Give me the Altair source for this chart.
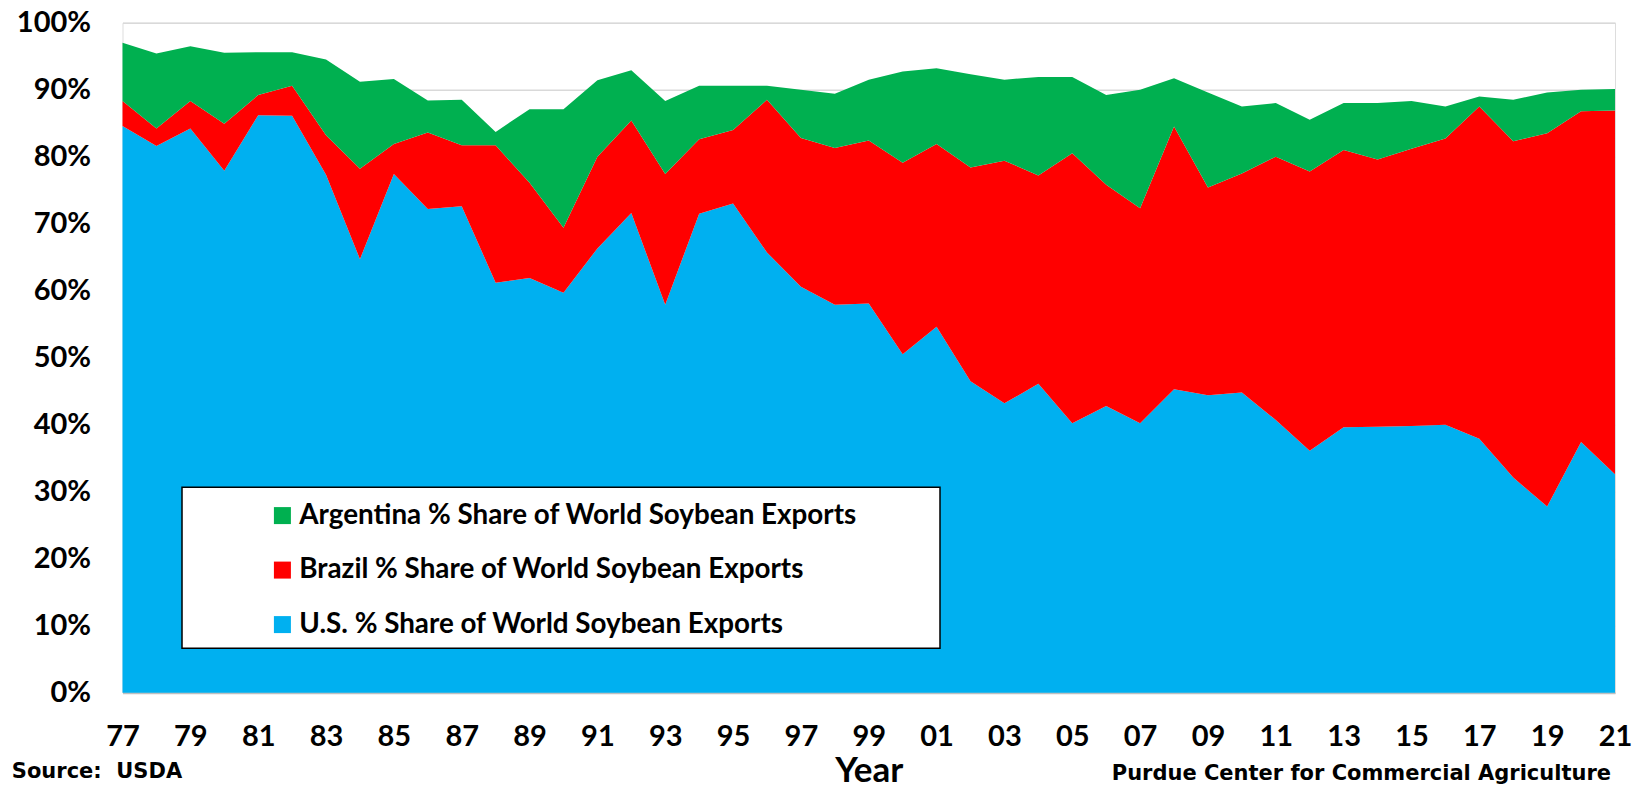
import altair as alt
import pandas as pd

years = list(range(1977, 2022))
us = [84.6, 81.6, 84.2, 77.9, 86.2, 86.1, 77.3, 64.7, 77.4, 72.2, 72.6, 61.2, 61.9, 59.7, 66.3,
      71.6, 57.9, 71.5, 73.0, 65.7, 60.6, 57.9, 58.1, 50.5, 54.6, 46.5, 43.2, 46.1, 40.2, 42.8,
      40.2, 45.3, 44.4, 44.8, 40.7, 36.1, 39.6, 39.7, 39.8, 40.0, 37.9, 32.1, 27.8, 37.4, 32.6]
brazil = [3.7, 2.6, 4.1, 7.0, 3.0, 4.5, 5.9, 13.5, 4.5, 11.4, 9.1, 20.5, 14.2, 9.7, 13.7,
          13.8, 19.5, 11.1, 11.0, 22.8, 22.2, 23.4, 24.3, 28.6, 27.3, 31.9, 36.2, 31.1, 40.3, 33.0,
          32.1, 39.2, 31.0, 32.7, 39.3, 41.7, 41.4, 39.9, 41.4, 42.7, 49.6, 50.2, 55.7, 49.4, 54.3]
argentina = [8.7, 11.2, 8.2, 10.6, 6.4, 5.0, 11.3, 13.0, 9.7, 4.8, 6.8, 2.0, 11.0, 17.7, 11.4,
             7.5, 10.9, 8.0, 6.6, 2.1, 7.2, 8.1, 9.1, 13.6, 11.3, 13.9, 12.1, 14.7, 11.4, 13.4,
             17.7, 7.2, 14.2, 10.0, 8.0, 7.7, 7.0, 8.4, 7.1, 4.8, 1.5, 6.2, 6.1, 3.2, 3.2]

series_names = ["Argentina % Share of World Soybean Exports",
                "Brazil % Share of World Soybean Exports",
                "U.S. % Share of World Soybean Exports"]
series_colors = ["#00B050", "#FF0000", "#00B0F0"]
tick_years = list(range(1977, 2022, 2))
y_ticks = list(range(0, 101, 10))

rows = []
for i, yr in enumerate(years):
    rows.append({"year": yr, "share": us[i], "series": series_names[2], "order": 1})
    rows.append({"year": yr, "share": brazil[i], "series": series_names[1], "order": 2})
    rows.append({"year": yr, "share": argentina[i], "series": series_names[0], "order": 3})
df = pd.DataFrame(rows)

CAL = "Lato"
VER = "DejaVu Sans"

areas = alt.Chart(df).mark_area(interpolate="linear").encode(
    x=alt.X("year:Q",
            scale=alt.Scale(domain=[1977, 2021], nice=False, zero=False),
            axis=alt.Axis(values=tick_years,
                          labelExpr="substring(toString(datum.value), 2, 4)",
                          title="Year", titleFont=CAL, titleFontSize=35, titleFontWeight="bold",
                          titleColor="black", titleBaseline="alphabetic", titleY=89,
                          labelFont=CAL, labelFontSize=29, labelFontWeight="bold", labelColor="black",
                          labelPadding=30, ticks=False, tickSize=0, grid=False,
                          labelFlush=False, labelOverlap=False, labelBound=False,
                          domainColor="#bfbfbf", domainWidth=2)),
    y=alt.Y("share:Q", stack="zero",
            scale=alt.Scale(domain=[0, 100], nice=False),
            axis=alt.Axis(values=y_ticks, labelExpr="datum.value + '%'", title=None,
                          labelFont=CAL, labelFontSize=29, labelFontWeight="bold", labelColor="black",
                          labelPadding=32, ticks=False, tickSize=0, domain=False,
                          grid=True, gridColor="#d9d9d9", gridWidth=1.5)),
    color=alt.Color("series:N",
                    scale=alt.Scale(domain=series_names, range=series_colors),
                    legend=alt.Legend(orient="none", legendX=146, legendY=479, title=None,
                                      symbolType="square", symbolSize=289, symbolStrokeWidth=0,
                                      symbolOpacity=1,
                                      labelFont=CAL, labelFontSize=27.8, labelFontWeight="bold",
                                      labelColor="black", labelOffset=3, labelLimit=0,
                                      rowPadding=25.5, padding=0)),
    order=alt.Order("order:Q")
)

frame = alt.Chart(pd.DataFrame({"a": [0]})).mark_rect(
    fill="white", stroke="black", strokeWidth=1.5
).encode(x=alt.value(59.5), x2=alt.value(817.5), y=alt.value(464.6), y2=alt.value(625.6))

source = alt.Chart(pd.DataFrame({"t": ["Source:\u00a0 USDA"]})).mark_text(
    font=VER, fontSize=21, fontWeight="bold", color="black", align="left", baseline="alphabetic"
).encode(x=alt.value(-110.7), y=alt.value(755.3), text="t:N")

purdue = alt.Chart(pd.DataFrame({"t": ["Purdue Center for Commercial Agriculture"]})).mark_text(
    font=VER, fontSize=21, fontWeight="bold", color="black", align="right", baseline="alphabetic"
).encode(x=alt.value(1488.5), y=alt.value(757.3), text="t:N")

chart = alt.layer(areas, frame, source, purdue).properties(
    width=1492.5, height=670,
    autosize=alt.AutoSizeParams(type="none"),
    padding={"left": 114.5, "top": 14.7, "right": 21, "bottom": 92}
).configure_view(stroke="black", strokeWidth=1.5).configure(background="white")

chart.save("out.html", embed_options={"renderer": "svg", "actions": False})
